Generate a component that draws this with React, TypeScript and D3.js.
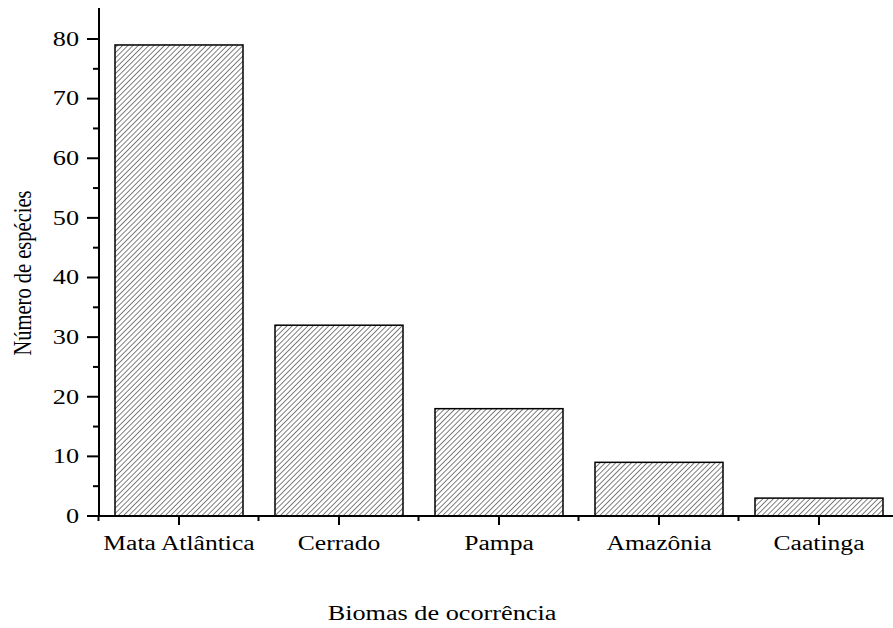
import { useEffect, useRef } from "react"
import * as d3 from "d3"

const biomes = ["Mata Atlântica", "Cerrado", "Pampa", "Amazônia", "Caatinga"]
const speciesCounts = [79, 32, 18, 9, 3]
const majorTicks = [0, 10, 20, 30, 40, 50, 60, 70, 80]
const minorTicks = [5, 15, 25, 35, 45, 55, 65, 75]

export default function App() {
  const svgRef = useRef<SVGSVGElement>(null)

  useEffect(() => {
    if (!svgRef.current) return
    const W = 893
    const H = 628
    const left = 99
    const sx = 1.28 // the original figure is stretched horizontally
    const svg = d3.select(svgRef.current)
    svg.selectAll("*").remove()
    svg.attr("width", W).attr("height", H)

    const font = "'Liberation Serif', 'Times New Roman', serif"

    const hs = 3.7
    const defs = svg.append("defs")
    const pat = defs
      .append("pattern")
      .attr("id", "hatch")
      .attr("patternUnits", "userSpaceOnUse")
      .attr("width", hs)
      .attr("height", hs)
      .attr("patternTransform", "rotate(45)")
    pat.append("rect").attr("width", hs).attr("height", hs).attr("fill", "#fff")
    pat
      .append("line")
      .attr("x1", 0)
      .attr("y1", 0)
      .attr("x2", 0)
      .attr("y2", hs)
      .attr("stroke", "#000")
      .attr("stroke-width", 1)

    const x = d3
      .scaleBand()
      .domain(biomes)
      .range([left, left + 160 * biomes.length])
      .paddingInner(0.2)
      .paddingOuter(0.1)

    const y = d3.scaleLinear().domain([0, 85.2]).range([516, 8])

    // bars
    svg
      .selectAll(".bar")
      .data(biomes)
      .enter()
      .append("rect")
      .attr("class", "bar")
      .attr("x", (d) => x(d) || 0)
      .attr("y", (d, i) => y(speciesCounts[i]))
      .attr("width", x.bandwidth())
      .attr("height", (d, i) => y(0) - y(speciesCounts[i]))
      .attr("fill", "url(#hatch)")
      .attr("stroke", "#000")
      .attr("stroke-width", 1.5)

    // y axis
    const yAxis = svg.append("g").attr("stroke", "#000").attr("stroke-width", 2)
    yAxis.append("line").attr("x1", left).attr("x2", left).attr("y1", y(0) + 1).attr("y2", 8)
    majorTicks.forEach((t) => {
      yAxis.append("line").attr("x1", left - 12).attr("x2", left).attr("y1", y(t)).attr("y2", y(t))
    })
    minorTicks.forEach((t) => {
      yAxis.append("line").attr("x1", left - 6).attr("x2", left).attr("y1", y(t)).attr("y2", y(t))
    })
    svg
      .selectAll(".ylab")
      .data(majorTicks)
      .enter()
      .append("text")
      .attr("transform", (d) => `translate(${left - 20},${y(d)}) scale(${sx},1)`)
      .attr("dy", "0.33em")
      .attr("text-anchor", "end")
      .attr("font-family", font)
      .attr("font-size", 20.5)
      .text((d) => d)

    // x axis
    const xAxis = svg.append("g").attr("stroke", "#000").attr("stroke-width", 2)
    xAxis.append("line").attr("x1", left - 1).attr("x2", W).attr("y1", y(0)).attr("y2", y(0))
    biomes.forEach((b) => {
      const c = (x(b) || 0) + x.bandwidth() / 2
      xAxis.append("line").attr("x1", c).attr("x2", c).attr("y1", y(0)).attr("y2", y(0) + 9)
    })
    d3.range(biomes.length + 1).forEach((i) => {
      const px = left + x.step() * i - 0.5
      xAxis.append("line").attr("x1", px).attr("x2", px).attr("y1", y(0)).attr("y2", y(0) + 5)
    })
    svg
      .selectAll(".xlab")
      .data(biomes)
      .enter()
      .append("text")
      .attr("transform", (d) => `translate(${(x(d) || 0) + x.bandwidth() / 2},550) scale(${sx},1)`)
      .attr("text-anchor", "middle")
      .attr("font-family", font)
      .attr("font-size", 20)
      .text((d) => d)

    // titles
    svg
      .append("text")
      .attr("transform", `translate(442,620) scale(${sx},1)`)
      .attr("text-anchor", "middle")
      .attr("font-family", font)
      .attr("font-size", 20.5)
      .text("Biomas de ocorrência")

    svg
      .append("text")
      .attr("transform", `translate(31,273) scale(${sx},1) rotate(-90)`)
      .attr("text-anchor", "middle")
      .attr("font-family", font)
      .attr("font-size", 20.5)
      .text("Número de espécies")
  }, [])

  return (
    <div style={{ position: "absolute", left: 0, top: 0 }}>
      <svg ref={svgRef} style={{ display: "block" }} />
    </div>
  )
}
